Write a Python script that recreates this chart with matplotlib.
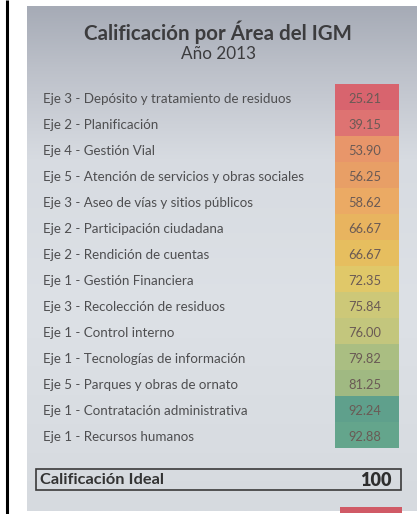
import numpy as np
import matplotlib
matplotlib.use("Agg")
import matplotlib.pyplot as plt
import matplotlib.transforms as mtransforms
from matplotlib.colors import LinearSegmentedColormap
from matplotlib.patches import Rectangle

# data
areas = [
    "Eje 3 - Depósito y tratamiento de residuos",
    "Eje 2 - Planificación",
    "Eje 4 - Gestión Vial",
    "Eje 5 - Atención de servicios y obras sociales",
    "Eje 3 - Aseo de vías y sitios públicos",
    "Eje 2 - Participación ciudadana",
    "Eje 2 - Rendición de cuentas",
    "Eje 1 - Gestión Financiera",
    "Eje 3 - Recolección de residuos",
    "Eje 1 - Control interno",
    "Eje 1 - Tecnologías de información",
    "Eje 5 - Parques y obras de ornato",
    "Eje 1 - Contratación administrativa",
    "Eje 1 - Recursos humanos",
]
scores = [25.21, 39.15, 53.90, 56.25, 58.62, 66.67, 66.67,
          72.35, 75.84, 76.00, 79.82, 81.25, 92.24, 92.88]
cell_colors = ["#d8646e", "#de7372", "#e8966a", "#e89f66", "#ebaa64",
               "#e8b45f", "#e6be5f", "#e0c869", "#cdc878", "#c3c67d",
               "#aabe82", "#a0b982", "#5fa08c", "#64a58c"]
ideal_label = "Calificación Ideal"
ideal_value = 100
title = "Calificación por Área del IGM"
subtitle = "Año 2013"

W, H = 417, 514
plt.rcParams['font.family'] = ['Lato', 'DejaVu Sans']

fig = plt.figure(figsize=(W / 100, H / 100), dpi=100)
fig.patch.set_facecolor("white")

# background axes in pixel coordinates
bg = fig.add_axes([0, 0, 1, 1])
bg.set_xlim(0, W)
bg.set_ylim(H, 0)
bg.axis("off")

bg.plot([7, 7], [0, H], color="black", lw=2.2, solid_capstyle="butt")

# photographed sheet, darker at the top
paper = LinearSegmentedColormap.from_list(
    "paper", [(0.0, "#a6abb6"), (0.12, "#bcc0c9"), (0.3, "#d7dbe1"),
              (0.6, "#dde1e6"), (1.0, "#d6dadf")])
grad = np.linspace(0, 1, 256).reshape(-1, 1)
bg.imshow(grad, cmap=paper, aspect="auto", extent=(27, W, 511, 6),
          interpolation="bilinear", zorder=0)

bg.text(218, 32, title, ha="center", va="center", fontsize=14.8,
        fontweight="bold", color="#3c3c3e")
bg.text(219, 54, subtitle, ha="center", va="center", fontsize=12.3,
        color="#3c3c3e")

# ideal score box
bg.add_patch(Rectangle((36, 469), 365, 21, fill=False, ec="#3a3a3a", lw=1.2))
bg.text(40, 480, ideal_label, ha="left", va="center", fontsize=11.8,
        fontweight="bold", color="#333333")
bg.text(392, 480, str(ideal_value), ha="right", va="center", fontsize=13,
        fontweight="heavy", color="#2e2e2e")
bg.add_patch(Rectangle((340, 507), 62, 6, color="#d05a66", lw=0))

# table: coloured score column
x0, x1, y0, y1 = 335, 399, 84, 448
tab = fig.add_axes([x0 / W, 1 - y1 / H, (x1 - x0) / W, (y1 - y0) / H])
tab.patch.set_alpha(0)
rows = np.arange(len(scores))
tab.barh(rows, 1, height=1, left=0, color=cell_colors, lw=0)
tab.set_xlim(0, 1)
tab.set_ylim(len(scores) - 0.5, -0.5)
tab.axis("off")

lab_tr = mtransforms.blended_transform_factory(fig.transFigure, tab.transData)
for i, (name, val) in enumerate(zip(areas, scores)):
    tab.text(43 / W, i + 0.08, name, transform=lab_tr, ha="left", va="center",
             fontsize=9.6, color="#4e4e50")
    tab.text(0.47, i + 0.08, f"{val:.2f}", ha="center", va="center",
             fontsize=9.3, color="#6a5a55")

fig.savefig("out.png", dpi=100, facecolor="white")
